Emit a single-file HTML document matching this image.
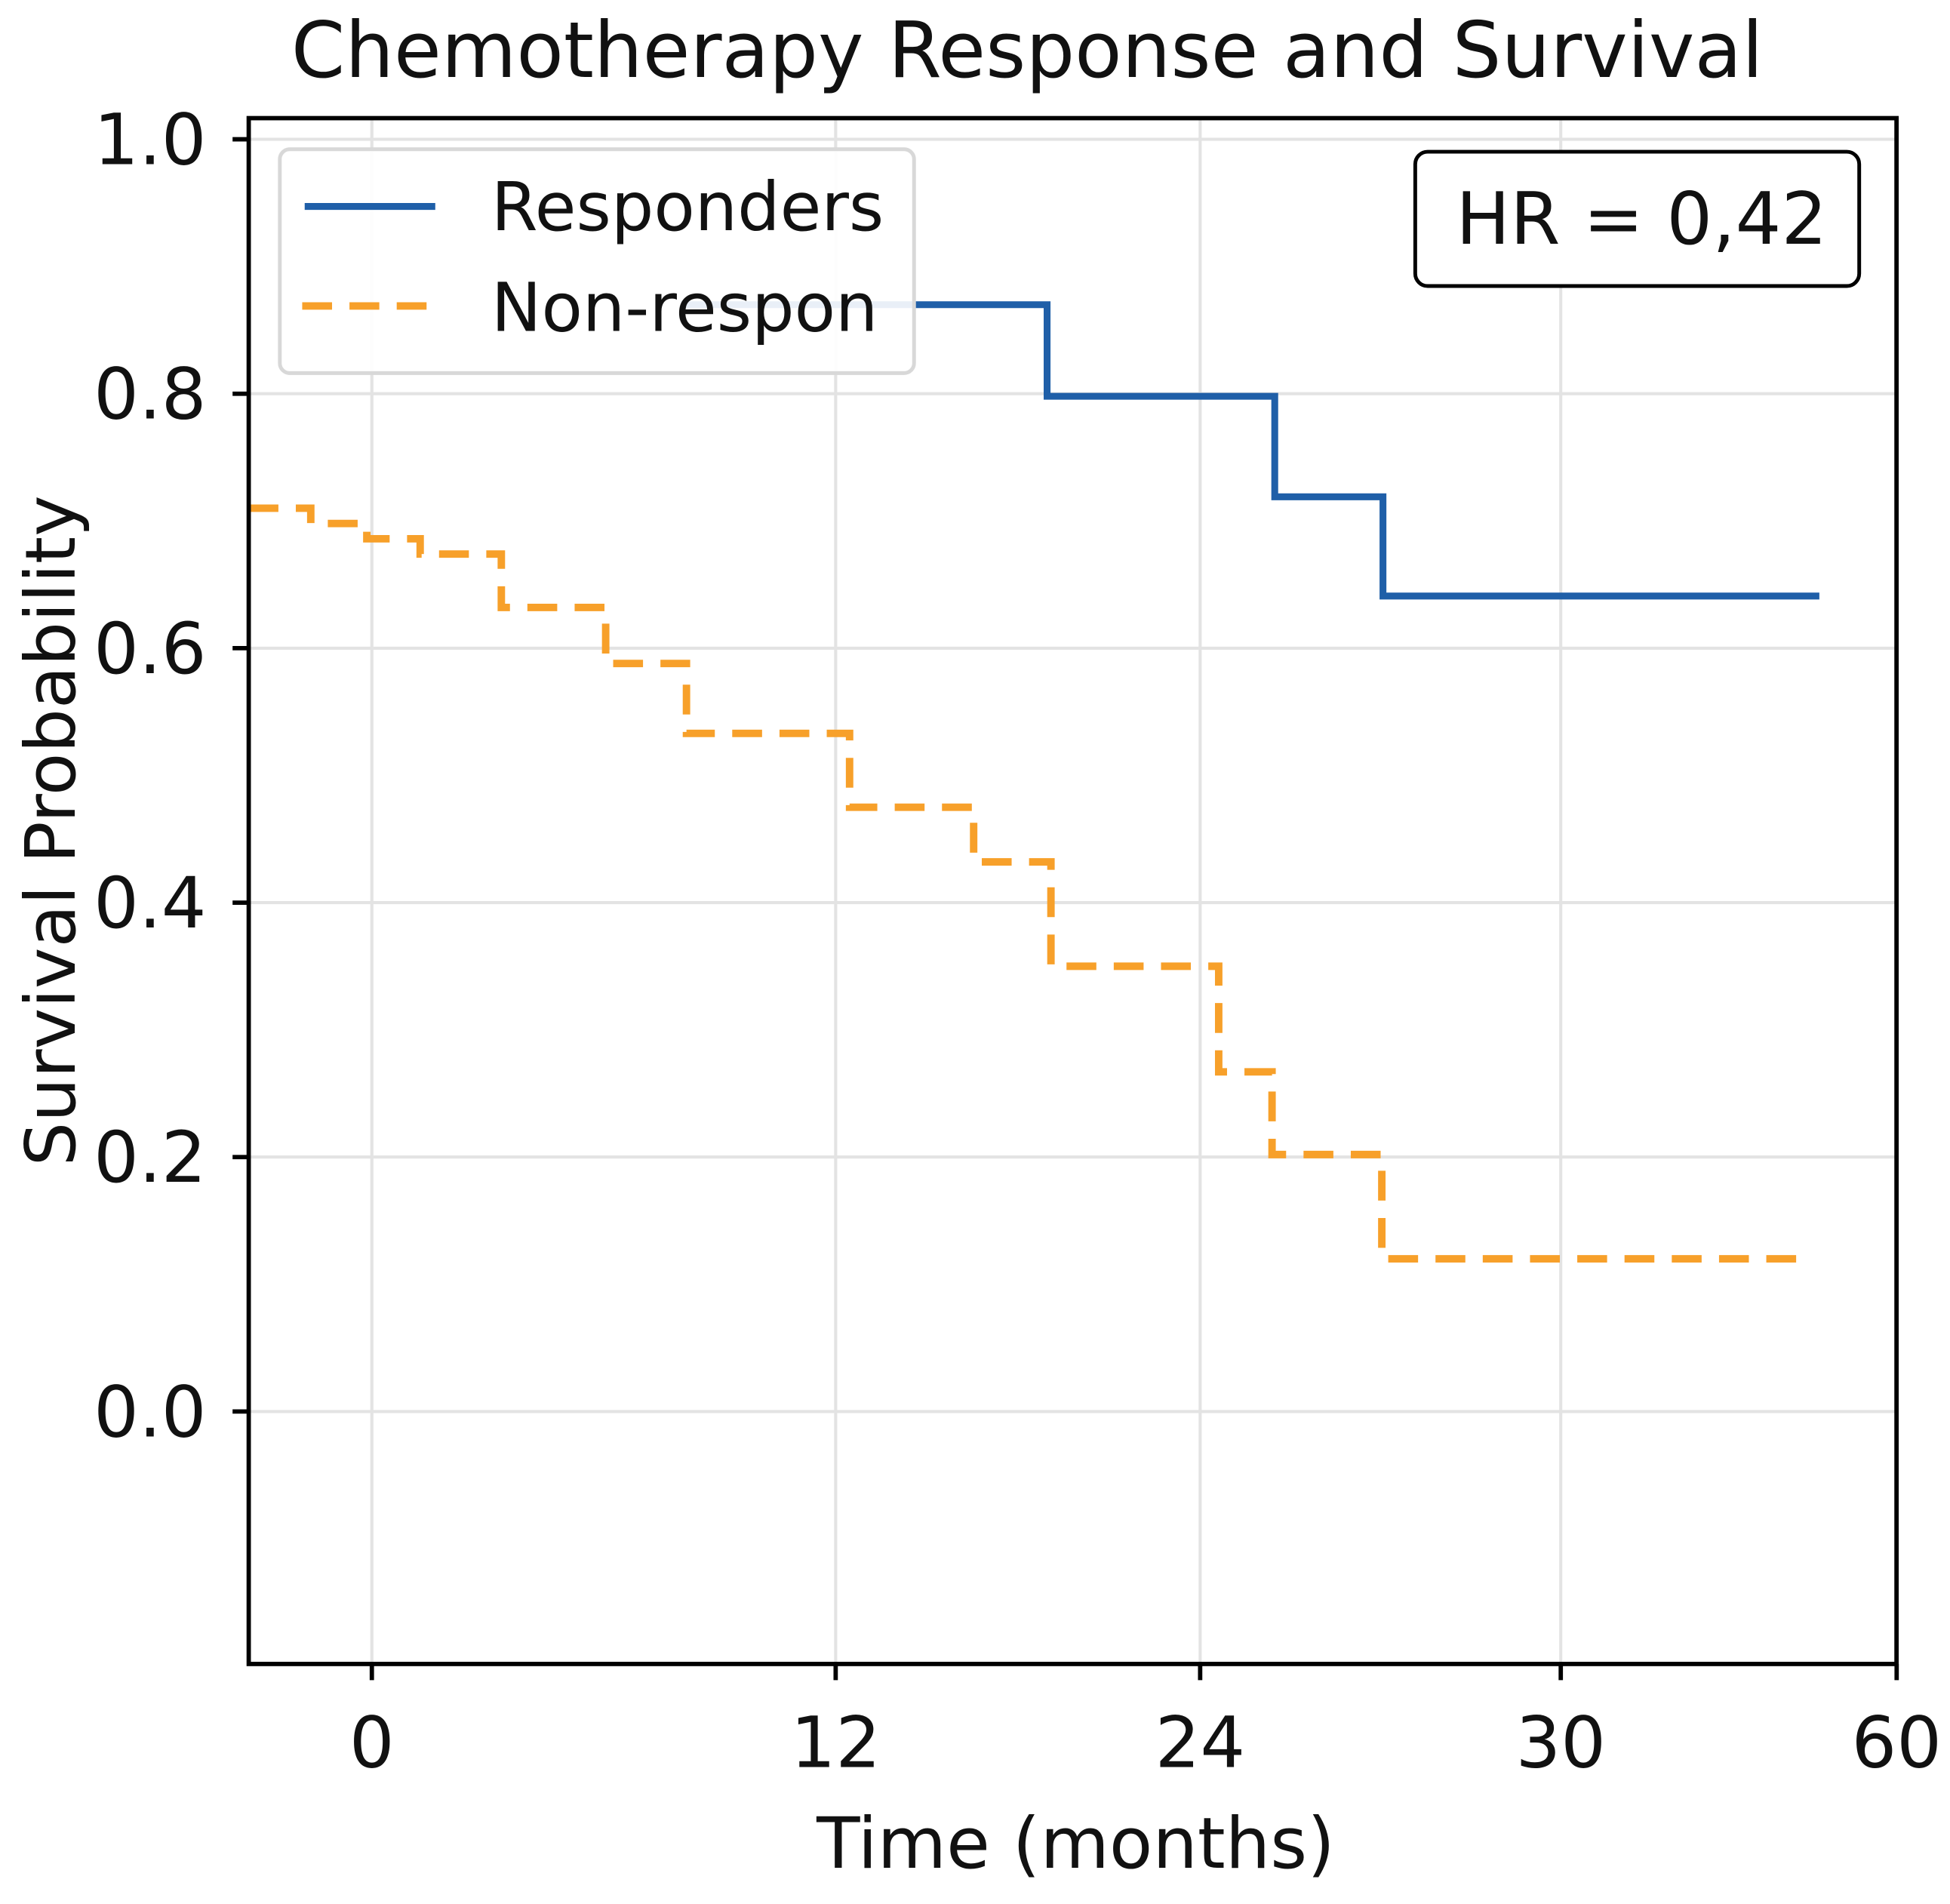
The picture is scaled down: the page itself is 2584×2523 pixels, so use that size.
<!DOCTYPE html>
<html><head><meta charset="utf-8"><style>
html,body{margin:0;padding:0;background:#fff}
svg{display:block}
text{font-family:"DejaVu Sans","Liberation Sans",sans-serif;fill:#111}
</style></head><body>
<svg id="chart" width="2584" height="2523" viewBox="0 0 1568 1531" xmlns="http://www.w3.org/2000/svg">
<text x="826" y="62" font-size="62" text-anchor="middle">Chemotherapy Response and Survival</text>
<g id="grid"></g>
<g id="series"></g>
<rect x="200" y="95" width="1325" height="1243" fill="none" stroke="#000" stroke-width="3.5"/>
<g id="ticks"></g>
<text x="865" y="1502" font-size="57" text-anchor="middle">Time (months)</text>
<text transform="translate(60,668) rotate(-90)" font-size="56" text-anchor="middle">Survival Probability</text>
<g>
<rect x="225" y="120" width="510" height="180" rx="8" fill="#fff" fill-opacity="0.9" stroke="#d8d8d8" stroke-width="3"/>
<line x1="245" y1="166" x2="350" y2="166" stroke="#1f5fa8" stroke-width="5.5"/>
<text x="395" y="185" font-size="54">Responders</text>
<line x1="243" y1="246" x2="350" y2="246" stroke="#f7a02a" stroke-width="6" stroke-dasharray="24,14"/>
<text x="395" y="266" font-size="54">Non-respon</text>
</g>
<g>
<rect x="1138" y="122" width="357" height="108" rx="10" fill="#fff" stroke="#000" stroke-width="3"/>
<text x="1320" y="196" font-size="58" text-anchor="middle">HR = 0,42</text>
</g>
</svg>
<script>
const yTicks = [0.0, 0.2, 0.4, 0.6, 0.8, 1.0];
const yTickLabels = ['0.0','0.2','0.4','0.6','0.8','1.0'];
const xTickVals = [0, 12, 21.43, 30.76, 39.45];
const xTickLabels = ['0','12','24','30','60'];
const respTimes = [8, 17.47, 23.36, 26.16, 37.45];
const respSurv = [0.870, 0.798, 0.719, 0.641, 0.641];
const nonTimes = [-3.19, -1.58, -0.13, 1.25, 3.35, 6.05, 8.14, 12.36, 15.57, 17.57, 21.91, 23.29, 26.13, 37.03];
const nonSurv = [0.710, 0.698, 0.686, 0.674, 0.632, 0.588, 0.533, 0.475, 0.432, 0.350, 0.267, 0.202, 0.120, 0.120];

const NS='http://www.w3.org/2000/svg';
function xs(t){return 299 + t*31.08;}
function ys(v){return 1135 - v*1023;}
function mk(tag, attrs, parent){const e=document.createElementNS(NS,tag);for(const k in attrs)e.setAttribute(k,attrs[k]);parent.appendChild(e);return e;}
const grid=document.getElementById('grid'), ticks=document.getElementById('ticks'), series=document.getElementById('series');
yTicks.forEach((v,i)=>{
  const g=mk('line',{x1:200,x2:1525,y1:ys(v),y2:ys(v),stroke:'#e3e3e3','stroke-width':2.5},grid);
  
  
  const t=mk('line',{x1:187,x2:200,y1:ys(v),y2:ys(v),stroke:'#000','stroke-width':3.5},ticks);
  
  
  const l=mk('text',{x:166,y:ys(v)+20,'font-size':57,'text-anchor':'end'},ticks);
  l.textContent=yTickLabels[i];
  
  
});
xTickVals.forEach((v,i)=>{
  const g=mk('line',{x1:xs(v),x2:xs(v),y1:95,y2:1338,stroke:'#e3e3e3','stroke-width':2.5},grid);
  
  
  const t=mk('line',{x1:xs(v),x2:xs(v),y1:1338,y2:1351,stroke:'#000','stroke-width':3.5},ticks);
  
  
  const l=mk('text',{x:xs(v),y:1421,'font-size':57,'text-anchor':'middle'},ticks);
  l.textContent=xTickLabels[i];
  
  
});
function stepPath(ts,ss){let d='M'+xs(ts[0])+','+ys(ss[0]);for(let i=1;i<ts.length;i++){d+=' H'+xs(ts[i])+' V'+ys(ss[i]);}return d;}
const p2=mk('path',{d:stepPath(nonTimes,nonSurv),fill:'none',stroke:'#f7a02a','stroke-width':6,'stroke-dasharray':'24,14'},series);


const p1=mk('path',{d:stepPath(respTimes,respSurv),fill:'none',stroke:'#1f5fa8','stroke-width':5.5},series);


</script>
</body></html>
